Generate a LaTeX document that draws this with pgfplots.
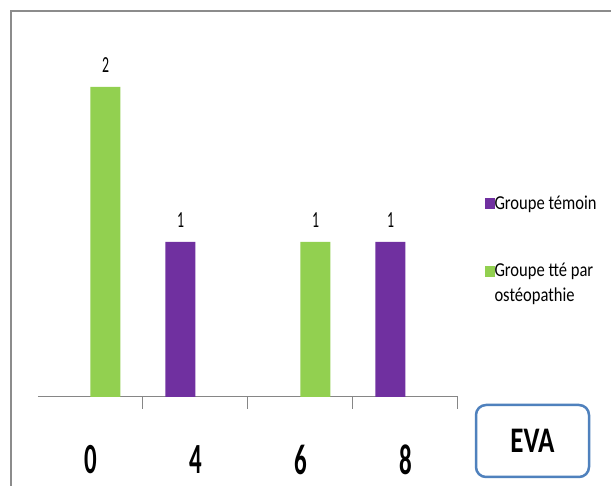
\documentclass[border=0pt]{standalone}
\usepackage{pgfplots}
\pgfplotsset{compat=1.18}
\usepackage{fontspec}
\setmainfont{Carlito}
\usepackage{graphicx}
\definecolor{ggreen}{HTML}{92D050}
\definecolor{gpurple}{HTML}{7030A0}
\definecolor{axgray}{HTML}{868686}
\definecolor{boxblue}{HTML}{4F81BD}
\definecolor{framegray}{HTML}{8C8C8C}
\newcommand{\tlab}[1]{\scalebox{0.58}[1]{\fontsize{43}{43}\selectfont\bfseries #1}}
\newcommand{\nlab}[1]{\scalebox{0.6}[1]{\fontsize{23}{23}\selectfont #1}}
\newcommand{\lgdtxt}[1]{\scalebox{0.84}[1]{\fontsize{19.7}{25}\selectfont\begin{tabular}[t]{@{}l@{}}#1\end{tabular}}}
\begin{document}
\begin{tikzpicture}[x=1pt,y=1pt]
\fill[white] (0,0) rectangle (611,486);
\fill[framegray] (9.5,0) rectangle (11.5,475.5);
\fill[framegray] (9.5,473.5) rectangle (611,475.5);
\begin{axis}[
  at={(38pt,89pt)}, anchor=south west,
  scale only axis, width=420pt, height=357pt,
  xmin=-0.5, xmax=3.5, ymin=0, ymax=2.303,
  ybar=0pt, bar width=30pt,
  axis x line=bottom, axis y line=none,
  x axis line style={-, draw=axgray, line width=1pt},
  xtick={0,1,2,3},
  xticklabels={\tlab{0},\tlab{4},\tlab{6},\tlab{8}},
  major tick length=0pt,
  minor xtick={0.5,1.5,2.5,3.5},
  minor tick length=12pt,
  xtick align=outside,
  tick style={draw=axgray, line width=1pt},
  xticklabel style={anchor=center, yshift=-62.5pt},
  enlargelimits=false,
  clip=false,
  nodes near coords={\nlab{\pgfmathprintnumber[assume math mode=true]{\pgfplotspointmeta}}},
  nodes near coords style={anchor=center, yshift=22pt, text=black},
  legend style={at={(1.0643,0.5748)}, anchor=north west, draw=none, fill=none,
    row sep=48.7pt, inner sep=0pt, outer sep=0pt,
    nodes={inner sep=0pt}, cells={anchor=base west}},
  legend cell align=left,
  legend image code/.code={\fill[#1] (0pt,-8.2pt) rectangle (9.5pt,2.8pt);},
]
\addplot[fill=gpurple, draw=none] coordinates {(1,1) (3,1)};
\addlegendentry{\lgdtxt{Groupe témoin}}
\addplot[fill=ggreen, draw=none] coordinates {(0,2) (2,1)};
\addlegendentry{\lgdtxt{Groupe tté par\\ostéopathie}}
\end{axis}
\node[draw=boxblue, line width=2.5pt, rounded corners=10pt, minimum width=113pt, minimum height=72pt, inner sep=0pt] at (532.5pt,45pt) {\scalebox{0.75}[1]{\fontsize{36}{36}\selectfont\bfseries EVA}};
\end{tikzpicture}
\end{document}
